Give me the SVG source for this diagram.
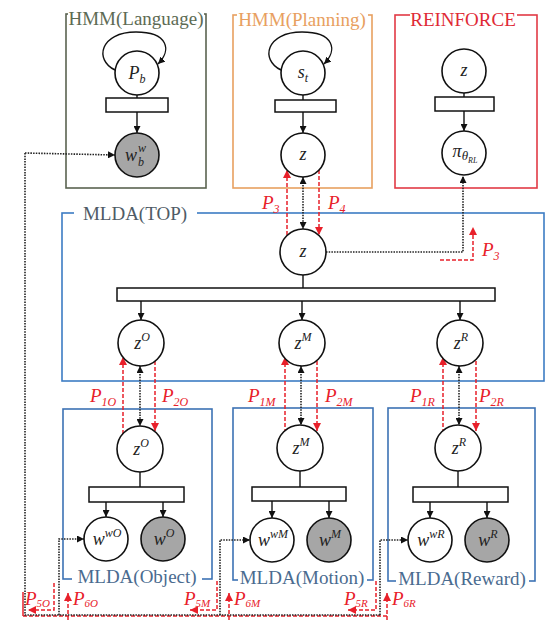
<svg xmlns="http://www.w3.org/2000/svg" width="549" height="620" viewBox="0 0 549 620">
<defs>
<marker id="ah" viewBox="0 0 10 10" refX="10" refY="5" markerWidth="7" markerHeight="7" orient="auto-start-reverse" markerUnits="userSpaceOnUse"><path d="M0,0 L10,5 L0,10 z" fill="#111"/></marker>
<marker id="ahr" viewBox="0 0 10 10" refX="10" refY="5" markerWidth="8" markerHeight="8" orient="auto-start-reverse" markerUnits="userSpaceOnUse"><path d="M0,0 L10,5 L0,10 z" fill="#e8202a"/></marker>
<style>
.node{fill:#fff;stroke:#111;stroke-width:1.6}
.obs{fill:#a6a6a6;stroke:#111;stroke-width:1.6}
.fac{fill:#fff;stroke:#111;stroke-width:1.5}
.ln{stroke:#111;stroke-width:1.4;fill:none}
.dot{stroke:#222;stroke-width:1.6;stroke-dasharray:1.5 1.2;fill:none}
.red{stroke:#e8202a;stroke-width:1.5;stroke-dasharray:4 2;fill:none}
.m{font-family:"Liberation Serif","DejaVu Serif",serif;font-style:italic;font-size:18px;fill:#222;text-anchor:middle}
.ms{font-family:"Liberation Serif","DejaVu Serif",serif;font-style:italic;font-size:12px;fill:#222}
.s{font-size:12px}
.rl{font-family:"Liberation Serif","DejaVu Serif",serif;font-style:italic;font-size:19px;fill:#e8202a}
.ttl{font-family:"Liberation Serif","Times New Roman",serif;font-size:19px;text-anchor:middle}
.bg{fill:#fff}
</style>
</defs>

<!-- boxes -->
<g id="box-language">
<rect x="66" y="14" width="140" height="174" fill="none" stroke="#5a6350" stroke-width="1.6"/>
<rect class="bg" x="68" y="6" width="136" height="20"/>
<text class="ttl" x="136" y="25" font-size="20" fill="#5d6b54">HMM(Language)</text>
</g>
<g id="box-planning">
<rect x="233" y="15" width="139" height="173" fill="none" stroke="#e8a060" stroke-width="1.6"/>
<rect class="bg" x="237" y="6" width="131" height="20"/>
<text class="ttl" x="302" y="26" font-size="20" fill="#e8a060">HMM(Planning)</text>
</g>
<g id="box-reinforce">
<rect x="395" y="15" width="142" height="173" fill="none" stroke="#e23a45" stroke-width="1.6"/>
<rect class="bg" x="410" y="6" width="107" height="20"/>
<text class="ttl" x="463" y="26" fill="#e02a36">REINFORCE</text>
</g>
<g id="box-top">
<rect x="62" y="213" width="482" height="168" fill="none" stroke="#3c7cc4" stroke-width="1.6"/>
<rect class="bg" x="74" y="203" width="123" height="20"/>
<text class="ttl" x="135" y="220" fill="#4f5b66">MLDA(TOP)</text>
</g>
<g id="box-object">
<rect x="63" y="409" width="149" height="170" fill="none" stroke="#3c72b4" stroke-width="1.6"/>
<rect class="bg" x="72" y="569" width="130" height="19"/>
<text class="ttl" x="137" y="583" fill="#4a6b8f">MLDA(Object)</text>
</g>
<g id="box-motion">
<rect x="233" y="408" width="140" height="172" fill="none" stroke="#3c72b4" stroke-width="1.6"/>
<rect class="bg" x="238" y="570" width="129" height="19"/>
<text class="ttl" x="302" y="584" fill="#4a6b8f">MLDA(Motion)</text>
</g>
<g id="box-reward">
<rect x="388" y="408" width="147" height="173" fill="none" stroke="#3c72b4" stroke-width="1.6"/>
<rect class="bg" x="396" y="571" width="133" height="19"/>
<text class="ttl" x="462" y="585" fill="#4a6b8f">MLDA(Reward)</text>
</g>

<!-- connectors -->
<g id="connectors">
<path class="ln" d="M115,70 C94,60 100,32 136,32 C168,32 172,50 158,64" marker-end="url(#ah)"/>
<line class="ln" x1="137" y1="95" x2="137" y2="98"/>
<line class="ln" x1="137" y1="112" x2="137" y2="133" marker-end="url(#ah)"/>
<path class="ln" d="M281,70 C260,60 266,32 302,32 C334,32 338,50 324,64" marker-end="url(#ah)"/>
<line class="ln" x1="303" y1="95" x2="303" y2="100"/>
<line class="ln" x1="303" y1="112" x2="303" y2="133" marker-end="url(#ah)"/>
<line class="ln" x1="464" y1="93" x2="464" y2="97"/>
<line class="ln" x1="464" y1="111" x2="464" y2="131" marker-end="url(#ah)"/>
<line class="dot" x1="303" y1="177" x2="303" y2="229" marker-start="url(#ah)" marker-end="url(#ah)"/>
<line class="red" x1="287" y1="235" x2="287" y2="170" marker-end="url(#ahr)"/>
<line class="red" x1="319" y1="170" x2="319" y2="235" marker-end="url(#ahr)"/>
<polyline class="dot" points="326,252 463,252 463,176" marker-end="url(#ah)"/>
<polyline class="red" points="440,260 473,260 473,227" marker-end="url(#ahr)"/>
<line class="ln" x1="303" y1="275" x2="303" y2="288"/>
<line class="ln" x1="141" y1="301" x2="141" y2="320" marker-end="url(#ah)"/>
<line class="ln" x1="302" y1="301" x2="302" y2="320" marker-end="url(#ah)"/>
<line class="ln" x1="460" y1="301" x2="460" y2="320" marker-end="url(#ah)"/>
<line class="dot" x1="140" y1="366" x2="140" y2="426" marker-start="url(#ah)" marker-end="url(#ah)"/>
<line class="red" x1="123" y1="434" x2="123" y2="357" marker-end="url(#ahr)"/>
<line class="red" x1="155" y1="361" x2="155" y2="431" marker-end="url(#ahr)"/>
<line class="dot" x1="301" y1="366" x2="301" y2="425" marker-start="url(#ah)" marker-end="url(#ah)"/>
<line class="red" x1="285" y1="433" x2="285" y2="357" marker-end="url(#ahr)"/>
<line class="red" x1="317" y1="361" x2="317" y2="431" marker-end="url(#ahr)"/>
<line class="dot" x1="459" y1="366" x2="459" y2="425" marker-start="url(#ah)" marker-end="url(#ah)"/>
<line class="red" x1="443" y1="433" x2="443" y2="357" marker-end="url(#ahr)"/>
<line class="red" x1="476" y1="361" x2="476" y2="431" marker-end="url(#ahr)"/>
<line class="ln" x1="140" y1="472" x2="140" y2="487"/>
<line class="ln" x1="106" y1="502" x2="106" y2="517" marker-end="url(#ah)"/>
<line class="ln" x1="163" y1="502" x2="163" y2="517" marker-end="url(#ah)"/>
<line class="ln" x1="300" y1="471" x2="300" y2="487"/>
<line class="ln" x1="272" y1="501" x2="272" y2="518" marker-end="url(#ah)"/>
<line class="ln" x1="329" y1="501" x2="329" y2="518" marker-end="url(#ah)"/>
<line class="ln" x1="458" y1="471" x2="458" y2="487"/>
<line class="ln" x1="430" y1="502" x2="430" y2="518" marker-end="url(#ah)"/>
<line class="ln" x1="487" y1="502" x2="487" y2="518" marker-end="url(#ah)"/>
<line class="red" x1="23" y1="616" x2="387" y2="616" stroke-dasharray="6 1"/>
<line x1="23" y1="592" x2="23" y2="616" stroke="#e8202a" stroke-width="1.5"/>
<polyline class="dot" points="25,153 25,615 380,615"/>
<line class="dot" x1="25" y1="153" x2="115" y2="155" marker-end="url(#ah)"/>
<polyline class="dot" points="59,615 59,539 84,539" marker-end="url(#ah)"/>
<polyline class="dot" points="220,615 220,540 250,540" marker-end="url(#ah)"/>
<polyline class="dot" points="380,615 380,540 408,540" marker-end="url(#ah)"/>
<polyline class="red" points="54,583 54,610 28,610" marker-end="url(#ahr)"/>
<polyline class="red" points="217,581 217,610 190,610" marker-end="url(#ahr)"/>
<polyline class="red" points="376,581 376,610 348,610" marker-end="url(#ahr)"/>
<line class="red" x1="68" y1="620" x2="68" y2="593" marker-end="url(#ahr)"/>
<line class="red" x1="229" y1="620" x2="229" y2="593" marker-end="url(#ahr)"/>
<line class="red" x1="387" y1="620" x2="387" y2="593" marker-end="url(#ahr)"/>
</g>

<!-- factor rectangles -->
<g id="factors">
<rect class="fac" x="106" y="98" width="62" height="14"/>
<rect class="fac" x="275" y="100" width="61" height="12"/>
<rect class="fac" x="435" y="97" width="59" height="14"/>
<rect class="fac" x="117" y="288" width="378" height="13"/>
<rect class="fac" x="89" y="487" width="95" height="15"/>
<rect class="fac" x="252" y="487" width="94" height="14"/>
<rect class="fac" x="413" y="487" width="95" height="15"/>
</g>

<!-- nodes -->
<g id="n-pb"><circle class="node" cx="137" cy="73" r="22"/><text class="m" x="137" y="79">P<tspan class="s" dy="4">b</tspan></text></g>
<g id="n-wbw"><circle class="obs" cx="137" cy="155" r="22"/><text class="m" x="131" y="161">w</text><text class="ms" x="138" y="152">w</text><text class="ms" x="138" y="166">b</text></g>
<g id="n-st"><circle class="node" cx="303" cy="73" r="22"/><text class="m" x="303" y="78">s<tspan class="s" dy="4">t</tspan></text></g>
<g id="n-zp"><circle class="node" cx="303" cy="155" r="22"/><text class="m" x="303" y="160">z</text></g>
<g id="n-zr"><circle class="node" cx="464" cy="71" r="22"/><text class="m" x="464" y="76">z</text></g>
<g id="n-pi"><circle class="node" cx="464" cy="153" r="22"/><text class="m" x="465" y="157">π<tspan dy="3" font-size="13">θ</tspan><tspan dy="3" font-size="8">RL</tspan></text></g>
<g id="n-ztop"><circle class="node" cx="303" cy="252" r="23"/><text class="m" x="303" y="257">z</text></g>
<g id="n-zo-top"><circle class="node" cx="141" cy="343" r="23"/><text class="m" x="142" y="349">z<tspan class="s" dy="-8">O</tspan></text></g>
<g id="n-zm-top"><circle class="node" cx="302" cy="343" r="23"/><text class="m" x="303" y="349">z<tspan class="s" dy="-8">M</tspan></text></g>
<g id="n-zr-top"><circle class="node" cx="460" cy="343" r="23"/><text class="m" x="461" y="349">z<tspan class="s" dy="-8">R</tspan></text></g>
<g id="n-zo"><circle class="node" cx="140" cy="449" r="23"/><text class="m" x="141" y="455">z<tspan class="s" dy="-8">O</tspan></text></g>
<g id="n-zm"><circle class="node" cx="300" cy="448" r="23"/><text class="m" x="301" y="454">z<tspan class="s" dy="-8">M</tspan></text></g>
<g id="n-zr2"><circle class="node" cx="458" cy="448" r="23"/><text class="m" x="459" y="454">z<tspan class="s" dy="-8">R</tspan></text></g>
<g id="n-wwo"><circle class="node" cx="106" cy="539" r="22"/><text class="m" x="107" y="545">w<tspan class="s" dy="-8">wO</tspan></text></g>
<g id="n-wo"><circle class="obs" cx="163" cy="539" r="22"/><text class="m" x="164" y="545">w<tspan class="s" dy="-8">O</tspan></text></g>
<g id="n-wwm"><circle class="node" cx="272" cy="540" r="22"/><text class="m" x="273" y="546">w<tspan class="s" dy="-8">wM</tspan></text></g>
<g id="n-wm"><circle class="obs" cx="329" cy="540" r="22"/><text class="m" x="330" y="546">w<tspan class="s" dy="-8">M</tspan></text></g>
<g id="n-wwr"><circle class="node" cx="430" cy="540" r="22"/><text class="m" x="431" y="546">w<tspan class="s" dy="-8">wR</tspan></text></g>
<g id="n-wr"><circle class="obs" cx="487" cy="540" r="22"/><text class="m" x="488" y="546">w<tspan class="s" dy="-8">R</tspan></text></g>

<!-- red labels -->
<g id="labels">
<text class="rl" x="262" y="209">P<tspan dy="4" font-size="12">3</tspan></text>
<text class="rl" x="328" y="209">P<tspan dy="4" font-size="12">4</tspan></text>
<text class="rl" x="482" y="256">P<tspan dy="4" font-size="12">3</tspan></text>
<text class="rl" x="90" y="402">P<tspan dy="4" font-size="12">1O</tspan></text>
<text class="rl" x="162" y="402">P<tspan dy="4" font-size="12">2O</tspan></text>
<text class="rl" x="248" y="402">P<tspan dy="4" font-size="12">1M</tspan></text>
<text class="rl" x="325" y="402">P<tspan dy="4" font-size="12">2M</tspan></text>
<text class="rl" x="410" y="402">P<tspan dy="4" font-size="12">1R</tspan></text>
<text class="rl" x="479" y="402">P<tspan dy="4" font-size="12">2R</tspan></text>
<text class="rl" x="25" y="605" font-size="16">P<tspan dy="2" font-size="11">5O</tspan></text>
<text class="rl" x="73" y="605" font-size="16">P<tspan dy="2" font-size="11">6O</tspan></text>
<text class="rl" x="184" y="605" font-size="16">P<tspan dy="2" font-size="11">5M</tspan></text>
<text class="rl" x="234" y="605" font-size="16">P<tspan dy="2" font-size="11">6M</tspan></text>
<text class="rl" x="344" y="605" font-size="16">P<tspan dy="2" font-size="11">5R</tspan></text>
<text class="rl" x="392" y="605" font-size="16">P<tspan dy="2" font-size="11">6R</tspan></text>
</g>
</svg>
